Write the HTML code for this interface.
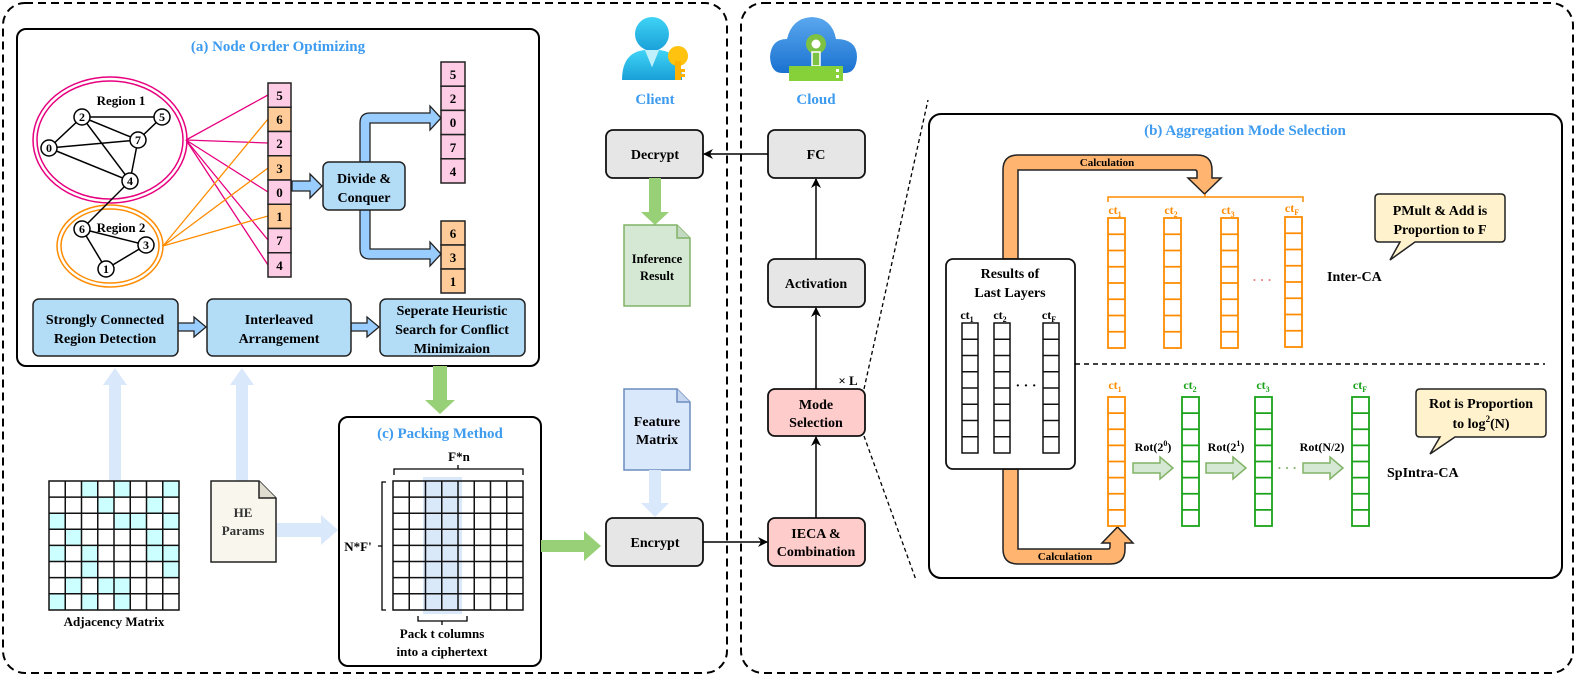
<!DOCTYPE html>
<html><head><meta charset="utf-8"><style>
html,body{margin:0;padding:0;background:#fff;}
svg{display:block;font-family:"Liberation Serif",serif;font-weight:bold;}
</style></head><body>
<svg width="1578" height="681" viewBox="0 0 1578 681" xmlns="http://www.w3.org/2000/svg">
<defs>
<marker id="ah" markerWidth="10" markerHeight="10" refX="9" refY="5" orient="auto" markerUnits="userSpaceOnUse"><path d="M0,0 L10,5 L0,10 L3,5 Z" fill="#000"/></marker>
<linearGradient id="cg" x1="0" y1="0" x2="0" y2="1"><stop offset="0" stop-color="#3fd3f5"/><stop offset="1" stop-color="#1aa0d8"/></linearGradient>
<linearGradient id="clg" x1="0" y1="0" x2="0" y2="1"><stop offset="0" stop-color="#5aa7ee"/><stop offset="1" stop-color="#1a72d0"/></linearGradient>
</defs>

<rect x="3" y="3" width="724" height="670" rx="22" fill="none" stroke="#000" stroke-width="2" stroke-dasharray="8 5"/>
<rect x="741" y="3" width="832" height="670" rx="22" fill="none" stroke="#000" stroke-width="2" stroke-dasharray="8 5"/>

<!-- (a) -->
<rect x="17" y="29" width="522" height="337" rx="9" fill="#fff" stroke="#000" stroke-width="2"/>
<text x="278" y="51" font-size="15" fill="#3d9bf0" text-anchor="middle">(a) Node Order Optimizing</text>

<ellipse cx="110" cy="140" rx="77" ry="63" fill="none" stroke="#e6007e" stroke-width="1.5"/>
<ellipse cx="110" cy="140" rx="73" ry="59" fill="none" stroke="#e6007e" stroke-width="1.5"/>
<ellipse cx="110" cy="246" rx="53" ry="41" fill="none" stroke="#ff8c00" stroke-width="1.5"/>
<ellipse cx="110" cy="246" rx="49" ry="37" fill="none" stroke="#ff8c00" stroke-width="1.5"/>

<g stroke="#e6007e" stroke-width="1.3">
<line x1="186" y1="140" x2="268" y2="95"/><line x1="186" y1="140" x2="268" y2="143"/><line x1="186" y1="140" x2="268" y2="192"/><line x1="186" y1="140" x2="268" y2="240"/><line x1="186" y1="140" x2="268" y2="265"/>
</g>
<g stroke="#ff8c00" stroke-width="1.3">
<line x1="163" y1="246" x2="268" y2="119"/><line x1="163" y1="246" x2="268" y2="168"/><line x1="163" y1="246" x2="268" y2="216"/>
</g>

<g stroke="#000" stroke-width="1.5">
<line x1="82" y1="117" x2="162" y2="117"/><line x1="82" y1="117" x2="49" y2="148"/><line x1="82" y1="117" x2="138" y2="140"/><line x1="82" y1="117" x2="130" y2="181"/>
<line x1="49" y1="148" x2="138" y2="140"/><line x1="49" y1="148" x2="130" y2="181"/><line x1="138" y1="140" x2="162" y2="117"/><line x1="138" y1="140" x2="130" y2="181"/>
<line x1="130" y1="181" x2="82" y2="229"/><line x1="82" y1="229" x2="146" y2="245"/><line x1="82" y1="229" x2="106" y2="269"/><line x1="106" y1="269" x2="146" y2="245"/>
</g>
<g fill="#fff" stroke="#000" stroke-width="1.5">
<circle cx="82" cy="117" r="8"/><circle cx="162" cy="117" r="8"/><circle cx="138" cy="140" r="8"/><circle cx="49" cy="148" r="8"/><circle cx="130" cy="181" r="8"/><circle cx="82" cy="229" r="8"/><circle cx="146" cy="245" r="8"/><circle cx="106" cy="269" r="8"/>
</g>
<g font-size="12" text-anchor="middle">
<text x="82" y="121">2</text><text x="162" y="121">5</text><text x="138" y="144">7</text><text x="49" y="152">0</text><text x="130" y="185">4</text><text x="82" y="233">6</text><text x="146" y="249">3</text><text x="106" y="273">1</text>
<text x="121" y="105" font-size="13">Region 1</text><text x="121" y="232" font-size="13">Region 2</text>
</g>

<g stroke="#222" stroke-width="1.5">
<rect x="268" y="83" width="23" height="24.25" fill="#ffcce6"/>
<rect x="268" y="107.25" width="23" height="24.25" fill="#ffcc99"/>
<rect x="268" y="131.5" width="23" height="24.25" fill="#ffcce6"/>
<rect x="268" y="155.75" width="23" height="24.25" fill="#ffcc99"/>
<rect x="268" y="180" width="23" height="24.25" fill="#ffcce6"/>
<rect x="268" y="204.25" width="23" height="24.25" fill="#ffcc99"/>
<rect x="268" y="228.5" width="23" height="24.25" fill="#ffcce6"/>
<rect x="268" y="252.75" width="23" height="24.25" fill="#ffcce6"/>
</g>
<g font-size="13" text-anchor="middle">
<text x="279.5" y="100">5</text><text x="279.5" y="124">6</text><text x="279.5" y="148">2</text><text x="279.5" y="173">3</text><text x="279.5" y="197">0</text><text x="279.5" y="221">1</text><text x="279.5" y="245">7</text><text x="279.5" y="270">4</text>
</g>

<g stroke="#222" stroke-width="1.5" fill="#ffcce6">
<rect x="441" y="62" width="24" height="24.2"/><rect x="441" y="86.2" width="24" height="24.2"/><rect x="441" y="110.4" width="24" height="24.2"/><rect x="441" y="134.6" width="24" height="24.2"/><rect x="441" y="158.8" width="24" height="24.2"/>
</g>
<g stroke="#222" stroke-width="1.5" fill="#ffcc99">
<rect x="441" y="221" width="24" height="24"/><rect x="441" y="245" width="24" height="24"/><rect x="441" y="269" width="24" height="24"/>
</g>
<g font-size="13" text-anchor="middle">
<text x="453" y="79">5</text><text x="453" y="103">2</text><text x="453" y="127">0</text><text x="453" y="152">7</text><text x="453" y="176">4</text>
<text x="453" y="238">6</text><text x="453" y="262">3</text><text x="453" y="286">1</text>
</g>

<g fill="#99ccff" stroke="#222" stroke-width="1.3">
<path d="M292,181 L310,181 L310,174 L322,186 L310,198 L310,191 L292,191 Z"/>
<path d="M360,162 L360,123 Q360,113 370,113 L430,113 L430,106 L441,118 L430,130 L430,123 L370,123 L370,162 Z"/>
<path d="M360,210 L360,249 Q360,259 370,259 L430,259 L430,266 L441,254 L430,242 L430,249 L370,249 L370,210 Z"/>
<path d="M178,323 L194,323 L194,317 L206,327 L194,337 L194,331 L178,331 Z"/>
<path d="M351,323 L367,323 L367,317 L379,327 L367,337 L367,331 L351,331 Z"/>
</g>
<rect x="323" y="162" width="82" height="48" rx="6" fill="#b3dcf7" stroke="#222" stroke-width="1.5"/>
<text x="364" y="183" font-size="14" text-anchor="middle">Divide &amp;</text>
<text x="364" y="202" font-size="14" text-anchor="middle">Conquer</text>

<g fill="#b3dcf7" stroke="#222" stroke-width="1.5">
<rect x="33" y="299" width="145" height="57" rx="6"/><rect x="207" y="299" width="144" height="57" rx="6"/><rect x="380" y="299" width="145" height="57" rx="6"/>
</g>
<g font-size="14" text-anchor="middle">
<text x="105" y="324">Strongly Connected</text><text x="105" y="343">Region Detection</text>
<text x="279" y="324">Interleaved</text><text x="279" y="343">Arrangement</text>
<text x="452" y="315">Seperate Heuristic</text><text x="452" y="334">Search for Conflict</text><text x="452" y="353">Minimizaion</text>
</g>

<g fill="#dae8fc">
<path d="M109,481 L109,385 L103,385 L115,368 L127,385 L121,385 L121,481 Z"/>
<path d="M236,481 L236,385 L230,385 L242,368 L254,385 L248,385 L248,481 Z"/>
<path d="M276,523 L321,523 L321,515 L338,530 L321,545 L321,537 L276,537 Z"/>
</g>
<path d="M433,366 L433,400 L425,400 L440,414 L455,400 L447,400 L447,366 Z" fill="#97d077"/>

<g fill="#ccffff">
<rect x="81.5" y="481" width="16.25" height="16.1"/><rect x="114" y="481" width="16.25" height="16.1"/><rect x="162.75" y="481" width="16.25" height="16.1"/>
<rect x="97.75" y="497.1" width="16.25" height="16.1"/><rect x="146.5" y="497.1" width="16.25" height="16.1"/>
<rect x="49" y="513.2" width="16.25" height="16.1"/><rect x="114" y="513.2" width="16.25" height="16.1"/><rect x="130.25" y="513.2" width="16.25" height="16.1"/><rect x="162.75" y="513.2" width="16.25" height="16.1"/>
<rect x="65.25" y="529.3" width="16.25" height="16.1"/><rect x="146.5" y="529.3" width="16.25" height="16.1"/>
<rect x="49" y="545.4" width="16.25" height="16.1"/><rect x="81.5" y="545.4" width="16.25" height="16.1"/><rect x="146.5" y="545.4" width="16.25" height="16.1"/><rect x="162.75" y="545.4" width="16.25" height="16.1"/>
<rect x="81.5" y="561.5" width="16.25" height="16.1"/><rect x="162.75" y="561.5" width="16.25" height="16.1"/>
<rect x="65.25" y="577.6" width="16.25" height="16.1"/><rect x="97.75" y="577.6" width="16.25" height="16.1"/><rect x="114" y="577.6" width="16.25" height="16.1"/>
<rect x="49" y="593.7" width="16.25" height="16.1"/><rect x="81.5" y="593.7" width="16.25" height="16.1"/><rect x="114" y="593.7" width="16.25" height="16.1"/>
</g>
<g stroke="#111" stroke-width="1.5" fill="none">
<rect x="49" y="481" width="130" height="129"/>
<path d="M65.25,481V610M81.5,481V610M97.75,481V610M114,481V610M130.25,481V610M146.5,481V610M162.75,481V610M49,497.1H179M49,513.2H179M49,529.3H179M49,545.4H179M49,561.5H179M49,577.6H179M49,593.7H179"/>
</g>
<text x="114" y="626" font-size="13" text-anchor="middle">Adjacency Matrix</text>

<path d="M211,481 L259,481 L276,498 L276,562 L211,562 Z" fill="#f9f7ed" stroke="#222" stroke-width="1.5"/>
<path d="M259,481 L259,498 L276,498" fill="#e0ddd0" stroke="#222" stroke-width="1.5"/>
<text x="243" y="517" font-size="13" text-anchor="middle" fill="#333">HE</text>
<text x="243" y="535" font-size="13" text-anchor="middle" fill="#333">Params</text>

<!-- (c) -->
<rect x="339" y="417" width="202" height="249" rx="9" fill="#fff" stroke="#000" stroke-width="2"/>
<text x="440" y="438" font-size="15" fill="#3d9bf0" text-anchor="middle">(c) Packing Method</text>
<text x="459" y="461" font-size="13" text-anchor="middle">F*n</text>
<path d="M394,475 V469 H523 V475 M458,469 V465" fill="none" stroke="#000" stroke-width="1.3"/>
<path d="M386,482 H382 V610 H386 M382,546 H378" fill="none" stroke="#000" stroke-width="1.3"/>
<text x="358" y="551" font-size="13" text-anchor="middle">N*F'</text>
<rect x="423" y="477" width="39" height="137" fill="#bcd7f5" opacity="0.55"/>
<g stroke="#111" stroke-width="1.5" fill="none">
<rect x="393" y="481" width="130" height="129"/>
<path d="M409.25,481V610M425.5,481V610M441.75,481V610M458,481V610M474.25,481V610M490.5,481V610M506.75,481V610M393,497.1H523M393,513.2H523M393,529.3H523M393,545.4H523M393,561.5H523M393,577.6H523M393,593.7H523"/>
</g>
<path d="M418,616 V621 H467 V616 M442,621 V625" fill="none" stroke="#000" stroke-width="1.3"/>
<text x="442" y="638" font-size="13" text-anchor="middle">Pack t columns</text>
<text x="442" y="656" font-size="13" text-anchor="middle">into a ciphertext</text>

<path d="M541,540 L584,540 L584,531 L601,546 L584,561 L584,552 L541,552 Z" fill="#97d077"/>

<!-- Client icon -->
<circle cx="652" cy="34" r="17" fill="url(#cg)"/>
<path d="M622,80 Q622,52 645,50 L652,67 L659,50 Q682,52 682,80 Z" fill="url(#cg)"/>
<path d="M645,50 L652,67 L659,50 Z" fill="#bff0fb"/>
<circle cx="678" cy="56" r="10" fill="#ffc20e"/>
<rect x="675" y="61" width="6" height="19" fill="#ffb300"/>
<rect x="681" y="69" width="4" height="3" fill="#ffb300"/><rect x="681" y="74" width="4" height="3" fill="#ffb300"/>
<text x="655" y="104" font-size="15" fill="#3d9bf0" text-anchor="middle">Client</text>

<!-- Cloud icon -->
<path d="M782,73 Q771,73 770,57 Q771,39 787,39 Q792,18 812,17 Q832,18 836,39 Q857,39 857,57 Q856,73 845,73 Z" fill="url(#clg)"/>
<circle cx="816" cy="44" r="10" fill="#7dc242"/><circle cx="816" cy="44" r="4.5" fill="#fff"/>
<rect x="812" y="52" width="8" height="14" fill="#7dc242" stroke="#fff" stroke-width="1.5"/>
<rect x="789" y="66" width="54" height="15" fill="#86d03a"/>
<rect x="836" y="69" width="3" height="3" fill="#fff"/><rect x="836" y="75" width="3" height="3" fill="#fff"/>
<text x="816" y="104" font-size="15" fill="#3d9bf0" text-anchor="middle">Cloud</text>

<!-- middle boxes -->
<g stroke="#111" stroke-width="1.8">
<rect x="606" y="130" width="97" height="48" rx="7" fill="#e6e6e6"/>
<rect x="768" y="130" width="97" height="48" rx="7" fill="#e6e6e6"/>
<rect x="768" y="259" width="97" height="48" rx="7" fill="#e6e6e6"/>
<rect x="768" y="389" width="97" height="47" rx="7" fill="#ffcccc"/>
<rect x="768" y="518" width="97" height="48" rx="7" fill="#ffcccc"/>
<rect x="606" y="518" width="97" height="48" rx="7" fill="#e6e6e6"/>
</g>
<g font-size="14" text-anchor="middle">
<text x="655" y="159">Decrypt</text><text x="816" y="159">FC</text><text x="816" y="288">Activation</text>
<text x="816" y="409">Mode</text><text x="816" y="427">Selection</text>
<text x="816" y="538">IECA &amp;</text><text x="816" y="556">Combination</text>
<text x="655" y="547">Encrypt</text>
<text x="848" y="385" font-size="13">× L</text>
</g>
<g stroke="#000" stroke-width="1.5" fill="none" marker-end="url(#ah)">
<line x1="768" y1="154" x2="704" y2="154"/>
<line x1="816" y1="259" x2="816" y2="179"/>
<line x1="816" y1="389" x2="816" y2="308"/>
<line x1="816" y1="518" x2="816" y2="437"/>
<line x1="703" y1="542" x2="767" y2="542"/>
</g>
<path d="M649,178 L649,212 L641,212 L655,225 L669,212 L661,212 L661,178 Z" fill="#97d077"/>
<path d="M624,225 L677,225 L690,238 L690,306 L624,306 Z" fill="#d5e8d4" stroke="#82b366" stroke-width="1.5"/>
<path d="M677,225 L677,238 L690,238" fill="#c3d9c2" stroke="#82b366" stroke-width="1.5"/>
<text x="657" y="263" font-size="12.5" text-anchor="middle">Inference</text>
<text x="657" y="280" font-size="12.5" text-anchor="middle">Result</text>
<path d="M624,389 L677,389 L690,402 L690,470 L624,470 Z" fill="#dae8fc" stroke="#6c8ebf" stroke-width="1.5"/>
<path d="M677,389 L677,402 L690,402" fill="#c6d6ef" stroke="#6c8ebf" stroke-width="1.5"/>
<text x="657" y="426" font-size="14" text-anchor="middle">Feature</text>
<text x="657" y="444" font-size="14" text-anchor="middle">Matrix</text>
<path d="M649,470 L649,503 L641,503 L655,517 L669,503 L661,503 L661,470 Z" fill="#dae8fc"/>

<line x1="864" y1="389" x2="928" y2="100" stroke="#000" stroke-width="1.3" stroke-dasharray="4 3"/>
<line x1="864" y1="436" x2="916" y2="580" stroke="#000" stroke-width="1.3" stroke-dasharray="4 3"/>

<!-- (b) -->
<rect x="929" y="114" width="633" height="464" rx="12" fill="#fff" stroke="#000" stroke-width="2"/>
<text x="1245" y="135" font-size="15" fill="#3d9bf0" text-anchor="middle">(b) Aggregation Mode Selection</text>

<path d="M1003,259 L1003,170 Q1003,155 1018,155 L1197,155 Q1212,155 1212,170 L1212,178 L1221,178 L1204.5,194 L1188,178 L1197,178 L1197,172 Q1197,170 1195,170 L1018,170 L1018,259 Z" fill="#ffb570" stroke="#222" stroke-width="1.5"/>
<text x="1107" y="166" font-size="11" text-anchor="middle">Calculation</text>
<path d="M1003,469 L1003,549 Q1003,564 1018,564 L1110,564 Q1125,564 1125,549 L1125,543 L1133,543 L1117.5,527 L1102,543 L1110,543 L1110,547 Q1110,549 1108,549 L1018,549 L1018,469 Z" fill="#ffb570" stroke="#222" stroke-width="1.5"/>
<text x="1065" y="560" font-size="11" text-anchor="middle">Calculation</text>

<rect x="946" y="259" width="129" height="210" rx="7" fill="#fff" stroke="#111" stroke-width="1.8"/>
<text x="1010" y="278" font-size="14" text-anchor="middle">Results of</text>
<text x="1010" y="297" font-size="14" text-anchor="middle">Last Layers</text>
<g font-size="12" text-anchor="middle">
<text x="967" y="319">ct<tspan font-size="8" dy="3">1</tspan></text>
<text x="1000" y="319">ct<tspan font-size="8" dy="3">2</tspan></text>
<text x="1049" y="319">ct<tspan font-size="8" dy="3">F</tspan></text>
</g>
<g stroke="#111" stroke-width="1.5" fill="none">
<rect x="962" y="323" width="16" height="130"/><rect x="994" y="323" width="16" height="130"/><rect x="1043" y="323" width="16" height="130"/>
<path d="M962,339.25H978M962,355.5H978M962,371.75H978M962,388H978M962,404.25H978M962,420.5H978M962,436.75H978"/>
<path d="M994,339.25H1010M994,355.5H1010M994,371.75H1010M994,388H1010M994,404.25H1010M994,420.5H1010M994,436.75H1010"/>
<path d="M1043,339.25H1059M1043,355.5H1059M1043,371.75H1059M1043,388H1059M1043,404.25H1059M1043,420.5H1059M1043,436.75H1059"/>
</g>
<text x="1026" y="390" font-size="14" text-anchor="middle">· · ·</text>

<path d="M1108,202 V197 H1303 V202 M1205,197 V194" fill="none" stroke="#ff8c00" stroke-width="1.5"/>
<g font-size="12" text-anchor="middle" fill="#ff8c00">
<text x="1115" y="214">ct<tspan font-size="8" dy="3">1</tspan></text>
<text x="1171" y="214">ct<tspan font-size="8" dy="3">2</tspan></text>
<text x="1228" y="214">ct<tspan font-size="8" dy="3">3</tspan></text>
<text x="1292" y="212">ct<tspan font-size="8" dy="3">F</tspan></text>
</g>
<g stroke="#ff8c00" stroke-width="1.8" fill="none">
<rect x="1108" y="218" width="17" height="130"/><rect x="1164" y="218" width="17" height="130"/><rect x="1221" y="218" width="17" height="130"/><rect x="1285" y="217" width="17" height="130"/>
<path d="M1108,234.25H1125M1108,250.5H1125M1108,266.75H1125M1108,283H1125M1108,299.25H1125M1108,315.5H1125M1108,331.75H1125"/>
<path d="M1164,234.25H1181M1164,250.5H1181M1164,266.75H1181M1164,283H1181M1164,299.25H1181M1164,315.5H1181M1164,331.75H1181"/>
<path d="M1221,234.25H1238M1221,250.5H1238M1221,266.75H1238M1221,283H1238M1221,299.25H1238M1221,315.5H1238M1221,331.75H1238"/>
<path d="M1285,233.25H1302M1285,249.5H1302M1285,265.75H1302M1285,282H1302M1285,298.25H1302M1285,314.5H1302M1285,330.75H1302"/>
</g>
<text x="1262" y="284" font-size="13" fill="#f08080" text-anchor="middle">· · ·</text>

<path d="M1379,194 H1501 Q1505,194 1505,198 V238 Q1505,242 1501,242 H1415 L1390,260 L1400,242 H1379 Q1375,242 1375,238 V198 Q1375,194 1379,194 Z" fill="#fff2cc" stroke="#222" stroke-width="1.5"/>
<text x="1440" y="215" font-size="14" text-anchor="middle">PMult &amp; Add is</text>
<text x="1440" y="234" font-size="14" text-anchor="middle">Proportion to F</text>
<text x="1327" y="281" font-size="14">Inter-CA</text>

<line x1="1075" y1="364" x2="1545" y2="364" stroke="#000" stroke-width="1.5" stroke-dasharray="5 4"/>

<g font-size="12" text-anchor="middle">
<text x="1115" y="389" fill="#ff8c00">ct<tspan font-size="8" dy="3">1</tspan></text>
<text x="1190" y="389" fill="#1aa31a">ct<tspan font-size="8" dy="3">2</tspan></text>
<text x="1263" y="389" fill="#1aa31a">ct<tspan font-size="8" dy="3">3</tspan></text>
<text x="1360" y="389" fill="#1aa31a">ct<tspan font-size="8" dy="3">F</tspan></text>
</g>
<g stroke="#ff8c00" stroke-width="1.8" fill="none">
<rect x="1108" y="397" width="17" height="129"/>
<path d="M1108,413.1H1125M1108,429.25H1125M1108,445.4H1125M1108,461.5H1125M1108,477.6H1125M1108,493.75H1125M1108,509.9H1125"/>
</g>
<g stroke="#1aa31a" stroke-width="1.8" fill="none">
<rect x="1182" y="397" width="17" height="129"/><rect x="1255" y="397" width="17" height="129"/><rect x="1352" y="397" width="17" height="129"/>
<path d="M1182,413.1H1199M1182,429.25H1199M1182,445.4H1199M1182,461.5H1199M1182,477.6H1199M1182,493.75H1199M1182,509.9H1199"/>
<path d="M1255,413.1H1272M1255,429.25H1272M1255,445.4H1272M1255,461.5H1272M1255,477.6H1272M1255,493.75H1272M1255,509.9H1272"/>
<path d="M1352,413.1H1369M1352,429.25H1369M1352,445.4H1369M1352,461.5H1369M1352,477.6H1369M1352,493.75H1369M1352,509.9H1369"/>
</g>
<g font-size="12" text-anchor="middle">
<text x="1153" y="451">Rot(2<tspan font-size="8" dy="-5">0</tspan><tspan dy="5">)</tspan></text>
<text x="1226" y="451">Rot(2<tspan font-size="8" dy="-5">1</tspan><tspan dy="5">)</tspan></text>
<text x="1322" y="451">Rot(N/2)</text>
</g>
<g fill="#d5e8d4" stroke="#82b366" stroke-width="1.5">
<path d="M1133,463 L1160,463 L1160,457 L1173,468 L1160,479 L1160,473 L1133,473 Z"/>
<path d="M1206,463 L1233,463 L1233,457 L1246,468 L1233,479 L1233,473 L1206,473 Z"/>
<path d="M1303,463 L1330,463 L1330,457 L1343,468 L1330,479 L1330,473 L1303,473 Z"/>
</g>
<text x="1287" y="472" font-size="13" fill="#82b366" text-anchor="middle">· · ·</text>

<path d="M1420,389 H1542 Q1546,389 1546,393 V433 Q1546,437 1542,437 H1455 L1430,454 L1440,437 H1420 Q1416,437 1416,433 V393 Q1416,389 1420,389 Z" fill="#fff2cc" stroke="#222" stroke-width="1.5"/>
<text x="1481" y="408" font-size="14" text-anchor="middle">Rot is Proportion</text>
<text x="1481" y="428" font-size="14" text-anchor="middle">to log<tspan font-size="9" dy="-6">2</tspan><tspan dy="6">(N)</tspan></text>
<text x="1387" y="477" font-size="14">SpIntra-CA</text>
</svg>
</body></html>
